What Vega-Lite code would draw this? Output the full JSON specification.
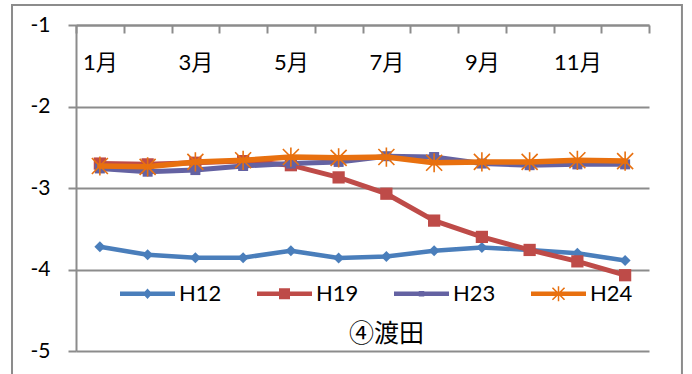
{
  "$schema": "https://vega.github.io/schema/vega-lite/v6.json",
  "width": 573,
  "height": 326,
  "autosize": {"type": "none"},
  "padding": {"left": 76, "top": 25, "right": 43, "bottom": 23},
  "background": "white",
  "config": {
    "view": {"stroke": null},
    "font": "Lato, Noto Sans CJK JP"
  },
  "datasets": {
    "levels": [
      {"month": 1, "series": "H12", "value": -3.72},
      {"month": 2, "series": "H12", "value": -3.82},
      {"month": 3, "series": "H12", "value": -3.855},
      {"month": 4, "series": "H12", "value": -3.855},
      {"month": 5, "series": "H12", "value": -3.77},
      {"month": 6, "series": "H12", "value": -3.86},
      {"month": 7, "series": "H12", "value": -3.84},
      {"month": 8, "series": "H12", "value": -3.77},
      {"month": 9, "series": "H12", "value": -3.73},
      {"month": 10, "series": "H12", "value": -3.76},
      {"month": 11, "series": "H12", "value": -3.8},
      {"month": 12, "series": "H12", "value": -3.89},
      {"month": 1, "series": "H19", "value": -2.7},
      {"month": 2, "series": "H19", "value": -2.71},
      {"month": 3, "series": "H19", "value": -2.69},
      {"month": 4, "series": "H19", "value": -2.67},
      {"month": 5, "series": "H19", "value": -2.72},
      {"month": 6, "series": "H19", "value": -2.87},
      {"month": 7, "series": "H19", "value": -3.07},
      {"month": 8, "series": "H19", "value": -3.4},
      {"month": 9, "series": "H19", "value": -3.6},
      {"month": 10, "series": "H19", "value": -3.76},
      {"month": 11, "series": "H19", "value": -3.9},
      {"month": 12, "series": "H19", "value": -4.07},
      {"month": 1, "series": "H23", "value": -2.76},
      {"month": 2, "series": "H23", "value": -2.8},
      {"month": 3, "series": "H23", "value": -2.78},
      {"month": 4, "series": "H23", "value": -2.73},
      {"month": 5, "series": "H23", "value": -2.7},
      {"month": 6, "series": "H23", "value": -2.68},
      {"month": 7, "series": "H23", "value": -2.61},
      {"month": 8, "series": "H23", "value": -2.62},
      {"month": 9, "series": "H23", "value": -2.7},
      {"month": 10, "series": "H23", "value": -2.72},
      {"month": 11, "series": "H23", "value": -2.71},
      {"month": 12, "series": "H23", "value": -2.71},
      {"month": 1, "series": "H24", "value": -2.73},
      {"month": 2, "series": "H24", "value": -2.74},
      {"month": 3, "series": "H24", "value": -2.68},
      {"month": 4, "series": "H24", "value": -2.66},
      {"month": 5, "series": "H24", "value": -2.62},
      {"month": 6, "series": "H24", "value": -2.63},
      {"month": 7, "series": "H24", "value": -2.62},
      {"month": 8, "series": "H24", "value": -2.69},
      {"month": 9, "series": "H24", "value": -2.68},
      {"month": 10, "series": "H24", "value": -2.68},
      {"month": 11, "series": "H24", "value": -2.66},
      {"month": 12, "series": "H24", "value": -2.67}
    ],
    "frame": [{"x0": -0.84, "x1": 13.19, "y0": -0.755, "y1": -5.5}],
    "caption": [{"month": 7, "value": -4.79, "text": "④渡田"}]
  },
  "resolve": {"scale": {"x": "independent", "y": "independent"}},
  "layer": [
    {
      "data": {"name": "frame"},
      "mark": {"type": "rect", "fill": null, "stroke": "#8c8c8c", "strokeWidth": 2, "clip": false},
      "encoding": {
        "x": {"field": "x0", "type": "quantitative", "scale": {"domain": [0.5, 12.5], "nice": false, "zero": false}, "axis": null},
        "x2": {"field": "x1"},
        "y": {"field": "y0", "type": "quantitative", "scale": {"domain": [-5, -1], "nice": false, "zero": false}, "axis": null},
        "y2": {"field": "y1"}
      }
    },
    {
      "data": {"name": "levels"},
      "encoding": {
        "x": {
          "field": "month",
          "type": "ordinal",
          "bandPosition": 0.5,
          "scale": {"type": "band", "paddingInner": 0, "paddingOuter": 0, "domain": [1, 2, 3, 4, 5, 6, 7, 8, 9, 10, 11, 12]},
          "axis": {
            "orient": "top",
            "title": null,
            "grid": false,
            "tickBand": "extent",
            "tickSize": -8,
            "tickWidth": 2,
            "tickColor": "#8c8c8c",
            "domainColor": "#8c8c8c",
            "domainWidth": 2,
            "labelAngle": 0,
            "labelFontSize": 22,
            "labelColor": "#000000",
            "labelBaseline": "middle",
            "labelPadding": -29,
            "labelExpr": "datum.value % 2 == 1 ? datum.value + '月' : ''"
          }
        },
        "y": {
          "field": "value",
          "type": "quantitative",
          "scale": {"domain": [-5, -1], "nice": false, "zero": false},
          "axis": {
            "title": null,
            "values": [-1, -2, -3, -4, -5],
            "labelExpr": "'' + datum.value",
            "grid": true,
            "gridColor": "#8c8c8c",
            "gridWidth": 2,
            "domainColor": "#8c8c8c",
            "domainWidth": 2,
            "tickColor": "#8c8c8c",
            "tickWidth": 2,
            "tickSize": 8,
            "labelFontSize": 21,
            "labelColor": "#000000",
            "labelPadding": 18
          }
        }
      },
      "layer": [
        {
          "transform": [{"filter": "datum.series == 'H12'"}],
          "layer": [
            {
              "mark": {"type": "line", "strokeWidth": 4.5, "strokeJoin": "round", "strokeCap": "round"},
              "encoding": {
                "color": {
                  "field": "series",
                  "type": "nominal",
                  "scale": {"domain": ["H12", "H19", "H23", "H24"], "range": ["#4A7EBB", "#BE4B48", "#6462A2", "#E8700F"]},
                  "legend": {
                    "title": null,
                    "orient": "none",
                    "legendX": 44,
                    "legendY": 241,
                    "direction": "horizontal",
                    "columns": 4,
                    "columnPadding": 35,
                    "symbolSize": 3025,
                    "symbolStrokeWidth": 0,
                    "labelFontSize": 22,
                    "labelColor": "#000000",
                    "labelOffset": 4,
                    "encode": {
                      "symbols": {
                        "update": {
                          "shape": {"signal": "datum.value == 'H12' ? 'M-1,-0.08H1V0.08H-1Z M0,-0.19L0.17,0L0,0.19L-0.17,0Z' : datum.value == 'H19' ? 'M-1,-0.08H1V0.08H-1Z M-0.2,-0.2H0.2V0.2H-0.2Z' : datum.value == 'H23' ? 'M-1,-0.08H1V0.08H-1Z M-0.1,-0.1H0.1V0.1H-0.1Z' : 'M-1,-0.08H1V0.08H-1Z M-0.027,-0.27H0.027V0.27H-0.027Z M-0.2,-0.24L0.24,0.2L0.2,0.24L-0.24,-0.2Z M0.24,-0.2L-0.2,0.24L-0.24,0.2L0.2,-0.24Z'"},
                          "fill": {"signal": "scale('color', datum.value)"},
                          "stroke": {"value": "transparent"},
                          "opacity": {"value": 1}
                        }
                      }
                    }
                  }
                }
              }
            },
            {"mark": {"type": "point", "shape": "diamond", "filled": true, "size": 120, "color": "#4A7EBB", "opacity": 1}}
          ]
        },
        {
          "transform": [{"filter": "datum.series == 'H19'"}],
          "layer": [
            {
              "mark": {"type": "line", "strokeWidth": 5, "strokeJoin": "round", "strokeCap": "round"},
              "encoding": {"color": {"field": "series", "type": "nominal"}}
            },
            {"mark": {"type": "point", "shape": "square", "filled": true, "size": 150, "color": "#BE4B48", "opacity": 1}}
          ]
        },
        {
          "transform": [{"filter": "datum.series == 'H23'"}],
          "layer": [
            {
              "mark": {"type": "line", "strokeWidth": 5, "strokeJoin": "round", "strokeCap": "round"},
              "encoding": {"color": {"field": "series", "type": "nominal"}}
            },
            {"mark": {"type": "point", "shape": "square", "filled": true, "size": 100, "color": "#6462A2", "opacity": 1}}
          ]
        },
        {
          "transform": [{"filter": "datum.series == 'H24'"}],
          "layer": [
            {
              "mark": {"type": "line", "strokeWidth": 5.5, "strokeJoin": "round", "strokeCap": "round"},
              "encoding": {"color": {"field": "series", "type": "nominal"}}
            },
            {"mark": {"type": "point", "shape": "M-1,-1L1,1M-1,1L1,-1M0,-1.2V1.2", "filled": false, "size": 256, "strokeWidth": 1.6, "color": "#E8700F", "opacity": 1}}
          ]
        },
        {
          "data": {"name": "caption"},
          "mark": {"type": "text", "fontSize": 25, "font": "Noto Sans CJK JP", "color": "#000000", "baseline": "middle", "align": "center"},
          "encoding": {"text": {"field": "text"}}
        }
      ]
    }
  ]
}
